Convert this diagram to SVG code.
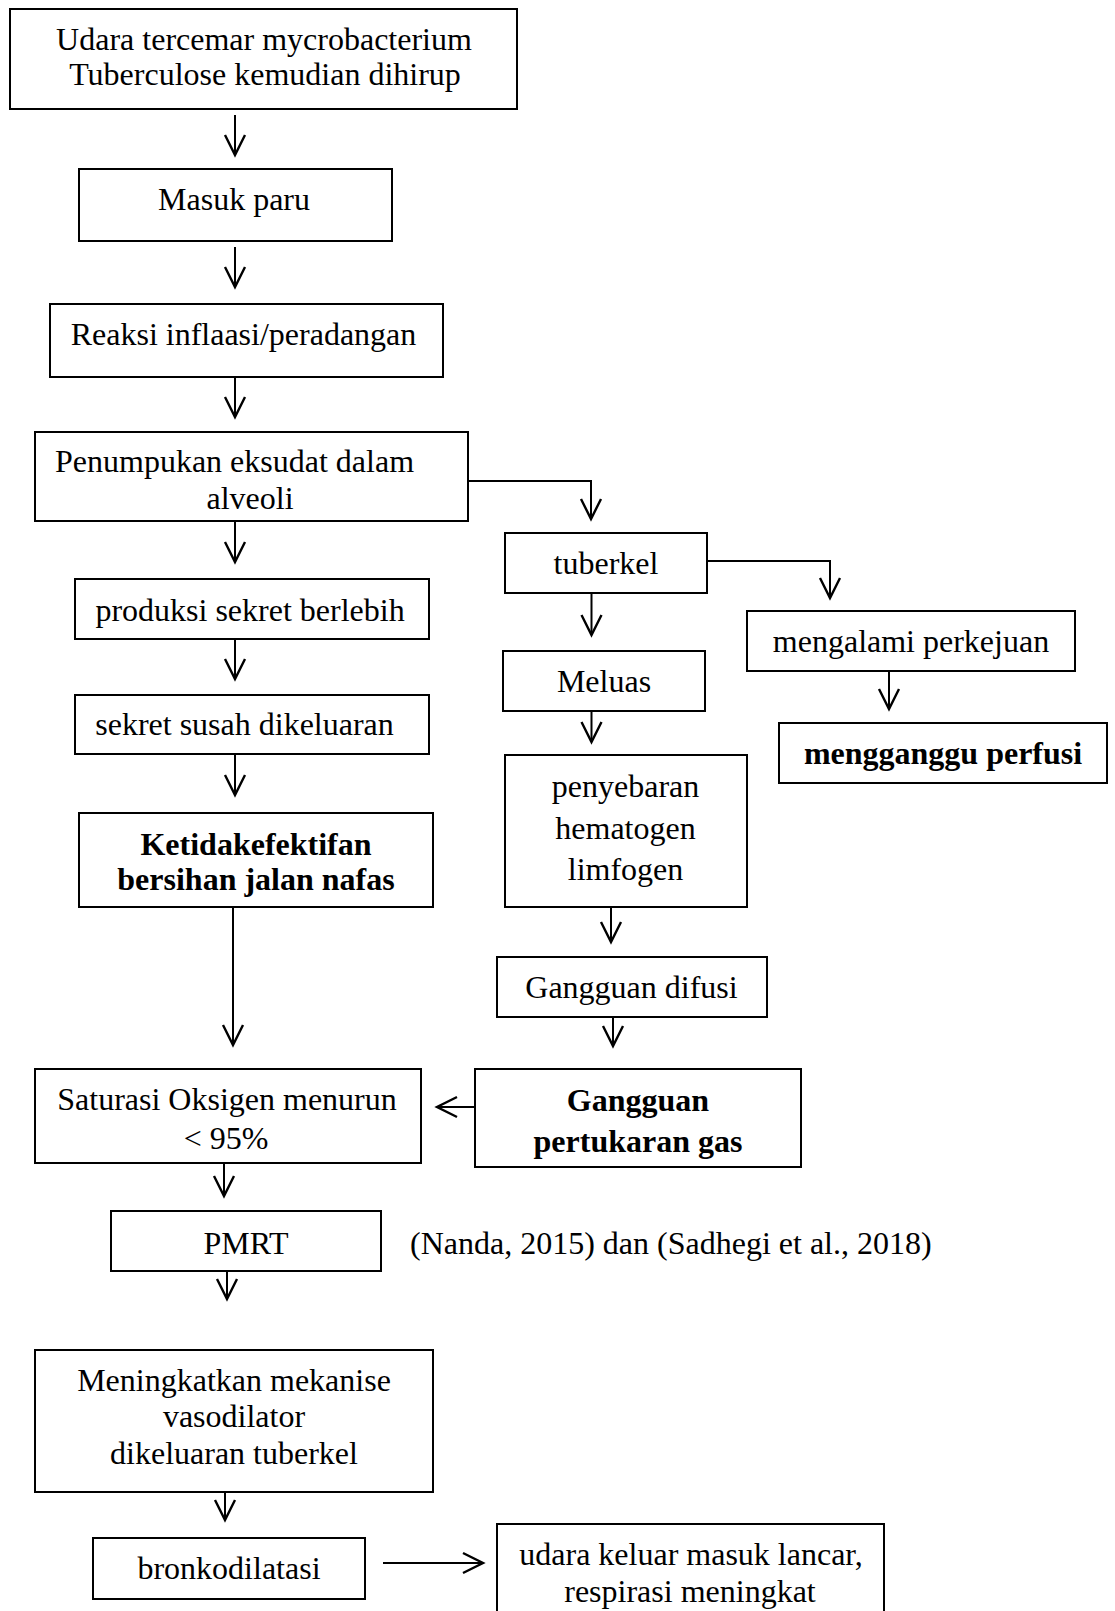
<svg xmlns="http://www.w3.org/2000/svg" width="1115" height="1611" viewBox="0 0 1115 1611">
<defs>
<style>
.box{fill:#fff;stroke:#000;stroke-width:2}
.t{font-family:"Liberation Serif","Times New Roman",serif;font-size:32px;fill:#000;text-anchor:middle;transform:translate(0px,2px)}
.b{font-weight:bold}
.s{text-anchor:start}
.c{fill:none;stroke:#000;stroke-width:2}
</style>
<marker id="ah" markerUnits="userSpaceOnUse" markerWidth="26" markerHeight="26" viewBox="-22 -13 26 26" refX="0" refY="0" orient="auto">
<path d="M-20,-10 L0,0 L-20,10" fill="none" stroke="#000" stroke-width="2.4"/>
</marker>
</defs>
<rect width="1115" height="1611" fill="#fff"/>
<g id="connectors">
<line class="c" x1="235" y1="115" x2="235" y2="155" marker-end="url(#ah)"/>
<line class="c" x1="235" y1="247" x2="235" y2="287" marker-end="url(#ah)"/>
<line class="c" x1="235" y1="377" x2="235" y2="417" marker-end="url(#ah)"/>
<line class="c" x1="235" y1="521" x2="235" y2="562" marker-end="url(#ah)"/>
<line class="c" x1="235" y1="639" x2="235" y2="679" marker-end="url(#ah)"/>
<line class="c" x1="235" y1="754" x2="235" y2="795" marker-end="url(#ah)"/>
<line class="c" x1="233" y1="907" x2="233" y2="1045" marker-end="url(#ah)"/>
<polyline class="c" points="468,481 591,481 591,519" marker-end="url(#ah)"/>
<polyline class="c" points="707,561 830,561 830,598" marker-end="url(#ah)"/>
<line class="c" x1="591.5" y1="593" x2="591.5" y2="635" marker-end="url(#ah)"/>
<line class="c" x1="591.5" y1="711" x2="591.5" y2="742" marker-end="url(#ah)"/>
<line class="c" x1="889" y1="671" x2="889" y2="709" marker-end="url(#ah)"/>
<line class="c" x1="611" y1="908" x2="611" y2="942" marker-end="url(#ah)"/>
<line class="c" x1="613" y1="1017" x2="613" y2="1046" marker-end="url(#ah)"/>
<line class="c" x1="474" y1="1107" x2="437" y2="1107" marker-end="url(#ah)"/>
<line class="c" x1="224" y1="1163" x2="224" y2="1196" marker-end="url(#ah)"/>
<line class="c" x1="227" y1="1271" x2="227" y2="1299" marker-end="url(#ah)"/>
<line class="c" x1="225" y1="1492" x2="225" y2="1520" marker-end="url(#ah)"/>
<line class="c" x1="383" y1="1563" x2="483" y2="1563" marker-end="url(#ah)"/>
</g>
<g id="n1"><rect class="box" x="10" y="9" width="507" height="100"/>
<text class="t" x="264" y="48">Udara tercemar mycrobacterium</text>
<text class="t" x="265" y="83">Tuberculose kemudian dihirup</text></g>
<g id="n2"><rect class="box" x="79" y="169" width="313" height="72"/>
<text class="t" x="234" y="208">Masuk paru</text></g>
<g id="n3"><rect class="box" x="50" y="304" width="393" height="73"/>
<text class="t" x="243.5" y="343">Reaksi inflaasi/peradangan</text></g>
<g id="n4"><rect class="box" x="35" y="432" width="433" height="89"/>
<text class="t" x="234.5" y="470">Penumpukan eksudat dalam</text>
<text class="t" x="250" y="507">alveoli</text></g>
<g id="n5"><rect class="box" x="75" y="579" width="354" height="60"/>
<text class="t" x="250" y="619">produksi sekret berlebih</text></g>
<g id="n6"><rect class="box" x="75" y="695" width="354" height="59"/>
<text class="t" x="244.5" y="733">sekret susah dikeluaran</text></g>
<g id="n7"><rect class="box" x="79" y="813" width="354" height="94"/>
<text class="t b" x="256" y="853">Ketidakefektifan</text>
<text class="t b" x="256" y="888">bersihan jalan nafas</text></g>
<g id="n8"><rect class="box" x="505" y="533" width="202" height="60"/>
<text class="t" x="606" y="572">tuberkel</text></g>
<g id="n9"><rect class="box" x="503" y="651" width="202" height="60"/>
<text class="t" x="604" y="690">Meluas</text></g>
<g id="n10"><rect class="box" x="505" y="755" width="242" height="152"/>
<text class="t" x="625.5" y="795">penyebaran</text>
<text class="t" x="625.5" y="837">hematogen</text>
<text class="t" x="625.5" y="878">limfogen</text></g>
<g id="n11"><rect class="box" x="747" y="611" width="328" height="60"/>
<text class="t" x="911" y="650">mengalami perkejuan</text></g>
<g id="n12"><rect class="box" x="779" y="723" width="328" height="60"/>
<text class="t b" x="943" y="762">mengganggu perfusi</text></g>
<g id="n13"><rect class="box" x="497" y="957" width="270" height="60"/>
<text class="t" x="631.5" y="996">Gangguan difusi</text></g>
<g id="n14"><rect class="box" x="475" y="1069" width="326" height="98"/>
<text class="t b" x="638" y="1109">Gangguan</text>
<text class="t b" x="638" y="1150">pertukaran gas</text></g>
<g id="n15"><rect class="box" x="35" y="1069" width="386" height="94"/>
<text class="t" x="227" y="1108">Saturasi Oksigen menurun</text>
<text class="t" x="226" y="1147">&lt; 95%</text></g>
<g id="n16"><rect class="box" x="111" y="1211" width="270" height="60"/>
<text class="t" x="246" y="1252">PMRT</text></g>
<g id="cite"><text class="t s" x="410" y="1252">(Nanda, 2015) dan (Sadhegi et al., 2018)</text></g>
<g id="n17"><rect class="box" x="35" y="1350" width="398" height="142"/>
<text class="t" x="234" y="1389">Meningkatkan mekanise</text>
<text class="t" x="234" y="1425">vasodilator</text>
<text class="t" x="234" y="1462">dikeluaran tuberkel</text></g>
<g id="n18"><rect class="box" x="93" y="1538" width="272" height="61"/>
<text class="t" x="229" y="1577">bronkodilatasi</text></g>
<g id="n19"><rect class="box" x="497" y="1524" width="387" height="100"/>
<text class="t" x="691" y="1563">udara keluar masuk lancar,</text>
<text class="t" x="690" y="1600">respirasi meningkat</text></g>
</svg>
